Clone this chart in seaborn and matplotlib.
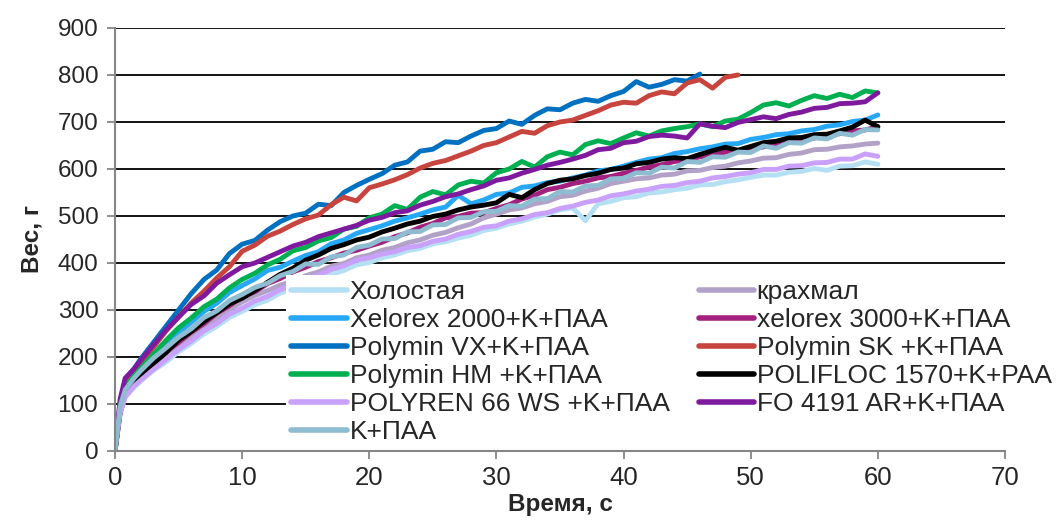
import matplotlib
matplotlib.use("Agg")
import matplotlib.pyplot as plt
import seaborn as sns
import pandas as pd

# Sampling instants, s
TIME = [0, 0.4, 0.8, 1.5, 2, 3, 4, 5, 6, 7, 8, 9, 10,
        11, 12, 13, 14, 15, 16, 17, 18, 19, 20,
        21, 22, 23, 24, 25, 26, 27, 28, 29, 30,
        31, 32, 33, 34, 35, 36, 37, 38, 39, 40,
        41, 42, 43, 44, 45, 46, 47, 48, 49, 50,
        51, 52, 53, 54, 55, 56, 57, 58, 59, 60]

# Filtrate weight, g
holostaya = [0, 80, 115, 135, 148, 171, 189, 211, 229, 249, 265, 284, 297,
             311, 321, 336, 344, 356, 364, 376, 384, 396, 401,
             411, 417, 426, 431, 441, 445, 453, 459, 469, 474,
             483, 489, 498, 504, 513, 517, 490, 526, 531, 539,
             541, 549, 551, 556, 559, 566, 567, 573, 577, 582,
             587, 587, 593, 595, 601, 597, 606, 607, 615, 610]
krahmal = [0, 85, 120, 142, 155, 181, 201, 223, 241, 263, 281, 301, 317,
           331, 341, 353, 361, 373, 381, 393, 399, 411, 417,
           427, 433, 443, 449, 459, 465, 475, 483, 496, 504,
           513, 517, 526, 531, 541, 544, 553, 559, 569, 574,
           579, 581, 587, 589, 596, 597, 603, 606, 613, 617,
           623, 624, 631, 634, 641, 642, 647, 649, 653, 655]
xelorex2000 = [0, 85, 125, 150, 165, 196, 224, 251, 274, 297, 314, 337, 352,
               366, 384, 391, 404, 416, 424, 441, 449, 463, 471,
               479, 489, 496, 504, 513, 519, 544, 526, 534, 546,
               549, 561, 564, 571, 574, 581, 587, 596, 599, 606,
               614, 621, 624, 633, 637, 643, 647, 653, 654, 663,
               667, 673, 675, 681, 684, 691, 694, 701, 704, 715]
xelorex3000 = [0, 80, 120, 145, 160, 184, 211, 231, 253, 271, 293, 309, 328,
               339, 356, 367, 381, 391, 403, 411, 421, 427, 436,
               444, 456, 464, 476, 484, 496, 499, 506, 507, 516,
               524, 536, 544, 556, 561, 569, 574, 581, 584, 591,
               597, 604, 609, 616, 619, 626, 629, 636, 637, 643,
               647, 653, 657, 663, 666, 673, 675, 681, 683, 690]
polymin_vx = [0, 100, 150, 175, 195, 230, 265, 300, 335, 365, 385, 420, 440,
              448, 470, 488, 500, 506, 525, 522, 550, 565, 578,
              590, 608, 615, 638, 642, 658, 656, 670, 682, 686,
              702, 695, 714, 728, 726, 740, 748, 744, 756, 765,
              786, 774, 780, 790, 787, 802]
polymin_sk = [0, 95, 140, 165, 185, 220, 255, 285, 315, 340, 368, 392, 425,
              438, 457, 468, 482, 494, 502, 524, 540, 532, 560,
              568, 577, 588, 602, 612, 618, 628, 638, 650, 656,
              668, 680, 676, 692, 700, 704, 714, 724, 736, 742,
              740, 756, 764, 760, 783, 790, 772, 795, 800]
polymin_hm = [0, 90, 135, 160, 175, 205, 235, 262, 283, 307, 323, 347, 365,
              378, 396, 408, 426, 433, 447, 454, 472, 478, 496,
              504, 522, 514, 540, 552, 545, 566, 574, 570, 592,
              600, 616, 604, 626, 636, 630, 652, 660, 654, 666,
              677, 670, 681, 686, 690, 696, 690, 702, 706, 720,
              736, 741, 734, 746, 756, 750, 759, 752, 766, 762]
polifloc = [0, 85, 120, 145, 160, 186, 209, 236, 254, 276, 294, 313, 325,
            341, 359, 376, 389, 406, 417, 431, 439, 449, 455,
            466, 474, 483, 489, 499, 504, 513, 519, 523, 528,
            546, 539, 556, 569, 576, 579, 586, 591, 599, 602,
            611, 614, 621, 624, 622, 631, 639, 646, 640, 648,
            656, 659, 666, 667, 673, 674, 681, 689, 704, 690]
polyren = [0, 80, 115, 138, 150, 173, 194, 216, 234, 256, 271, 291, 304,
           319, 329, 343, 354, 366, 374, 386, 394, 406, 411,
           419, 424, 433, 437, 446, 451, 461, 467, 476, 479,
           489, 494, 503, 507, 516, 521, 529, 534, 543, 547,
           553, 557, 563, 565, 571, 574, 581, 584, 589, 592,
           599, 599, 606, 607, 613, 614, 621, 621, 632, 627]
fo4191 = [0, 110, 155, 175, 192, 225, 257, 285, 312, 330, 357, 375, 392,
          400, 412, 424, 436, 444, 456, 464, 472, 480, 491,
          497, 507, 511, 523, 531, 541, 547, 556, 564, 576,
          581, 591, 599, 608, 614, 621, 629, 641, 644, 656,
          659, 669, 672, 670, 666, 696, 691, 688, 699, 705,
          711, 707, 716, 721, 729, 731, 739, 740, 743, 762]
k_paa = [0, 95, 130, 155, 170, 197, 219, 242, 260, 284, 298, 320, 333,
         348, 357, 373, 382, 398, 397, 413, 417, 433, 438,
         451, 452, 466, 467, 481, 482, 496, 497, 509, 510,
         522, 521, 536, 537, 552, 551, 564, 565, 579, 580,
         592, 591, 604, 602, 616, 614, 626, 625, 636, 635,
         649, 644, 656, 655, 666, 664, 676, 672, 684, 683]

SERIES = [
    ("Холостая", holostaya, "#B5E0F3"),
    ("крахмал", krahmal, "#B3A2C7"),
    ("Xelorex 2000+K+ПАА", xelorex2000, "#27A8F6"),
    ("xelorex 3000+K+ПАА", xelorex3000, "#A3207E"),
    ("Polymin VX+K+ПАА", polymin_vx, "#0070C0"),
    ("Polymin SK +K+ПАА", polymin_sk, "#C8443E"),
    ("Polymin HM +K+ПАА", polymin_hm, "#00B050"),
    ("POLIFLOC 1570+K+PAA", polifloc, "#000000"),
    ("POLYREN 66 WS +K+ПАА", polyren, "#C9A0FA"),
    ("FO 4191 AR+K+ПАА", fo4191, "#7F1A9F"),
    ("K+ПАА", k_paa, "#8EBCD0"),
]

rows = []
for name, vals, _ in SERIES:
    for t, v in zip(TIME, vals):
        rows.append({"series": name, "t": t, "w": v})
df = pd.DataFrame(rows)

names = [s[0] for s in SERIES]
palette = {s[0]: s[2] for s in SERIES}

sns.set_theme(style="white")
plt.rcParams["font.family"] = ["Liberation Sans", "DejaVu Sans"]

fig = plt.figure(figsize=(10.56, 5.23), dpi=100)
ax = fig.add_axes([0.1089, 0.1377, 0.8428, 0.8088])

sns.lineplot(data=df, x="t", y="w", hue="series", hue_order=names,
             palette=palette, estimator=None, sort=False, linewidth=3.5,
             legend=False, ax=ax)

ax.set_xlim(0, 70)
ax.set_ylim(0, 900)
ax.set_xticks(range(0, 71, 10))
ax.set_yticks(range(0, 901, 100))
ax.yaxis.grid(True, color="black", linewidth=1.3)
ax.set_axisbelow(True)
for side in ("top", "right"):
    ax.spines[side].set_visible(False)
for side in ("left", "bottom"):
    ax.spines[side].set_color("#868686")
    ax.spines[side].set_linewidth(1.5)
ax.tick_params(axis="both", direction="out", length=6, width=1.3,
               color="#868686", bottom=True, left=True)
ax.tick_params(axis="x", labelsize=18.5, pad=5)
ax.tick_params(axis="y", labelsize=17.5, pad=6)
ax.set_xlabel("Время, с", fontsize=17.5, fontweight="bold", labelpad=2)
ax.set_ylabel("Вес, г", fontsize=17.5, fontweight="bold", labelpad=10)

# Two-column legend: left column first, then right column
handles = ax.get_lines()
hmap = dict(zip(names, handles))
left_col = ["Холостая", "Xelorex 2000+K+ПАА", "Polymin VX+K+ПАА",
            "Polymin HM +K+ПАА", "POLYREN 66 WS +K+ПАА", "K+ПАА"]
right_col = ["крахмал", "xelorex 3000+K+ПАА", "Polymin SK +K+ПАА",
             "POLIFLOC 1570+K+PAA", "FO 4191 AR+K+ПАА"]
order = left_col + right_col
leg = fig.legend([hmap[n] for n in order], order, ncol=2,
                 loc="upper left", bbox_to_anchor=(0.271, 0.474),
                 fontsize=19, frameon=True, facecolor="white",
                 edgecolor="none", framealpha=1.0, fancybox=False,
                 handlelength=2.1, handletextpad=0.1, columnspacing=1.1,
                 labelspacing=0.15, borderpad=0.2, borderaxespad=0)
for line in leg.get_lines():
    line.set_linewidth(4.0)

fig.savefig("out.png", dpi=100)
